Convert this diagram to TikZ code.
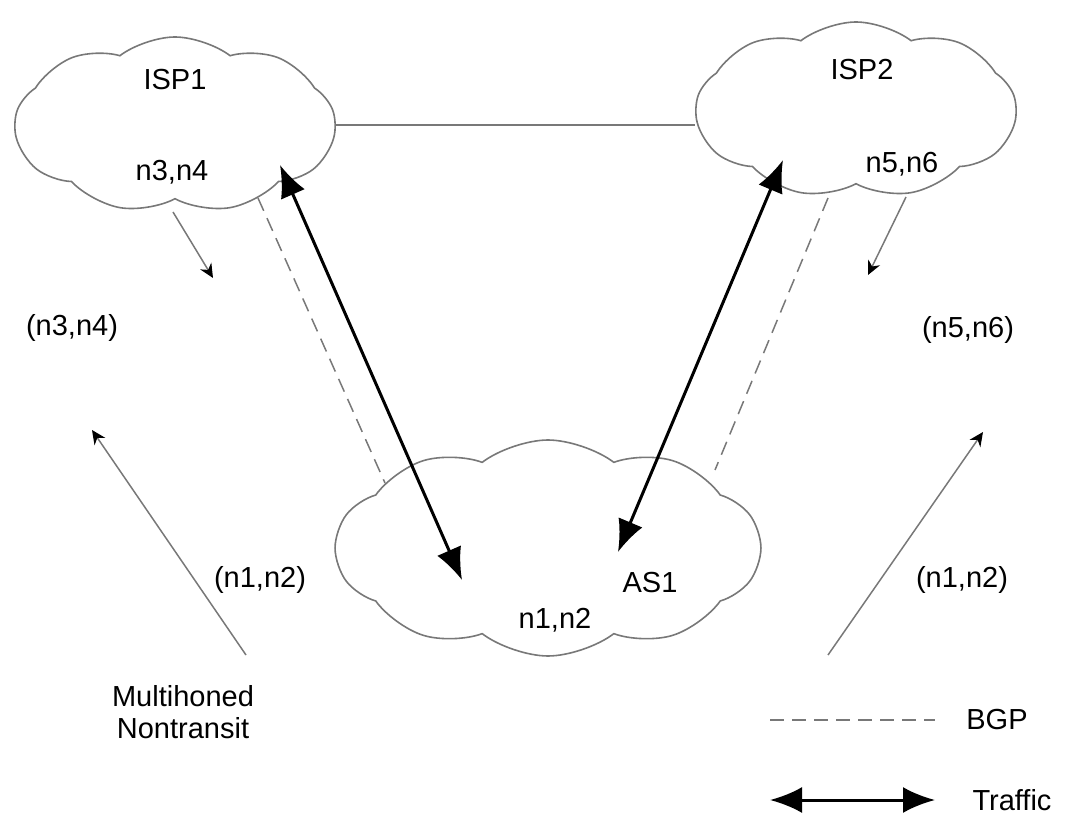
\documentclass[tikz,border=0pt]{standalone}
\usepackage{fontspec}
\setmainfont{Liberation Sans}
\usetikzlibrary{arrows.meta,positioning,shapes.symbols,calc}
\definecolor{linegray}{RGB}{120,120,120}

\begin{document}
\begin{tikzpicture}[
  x=0.5pt, y=-0.5pt,
  font=\fontsize{14.5}{16}\selectfont,
  cloudbox/.style={draw=linegray, cloud, cloud puffs=9, cloud puff arc=75, line width=0.8pt, inner sep=0pt},
  bgpline/.style={draw=linegray, dash pattern=on 7pt off 4pt, line width=0.75pt},
  trafarr/.style={{Latex[length=16pt,width=13pt]}-{Latex[length=16pt,width=13pt]}, line width=1.5pt},
  thinarr/.style={-{Stealth[length=7pt,width=6.5pt,color=black]}, draw=linegray, line width=0.75pt},
]
\useasboundingbox (0,0) rectangle (1087,818);
% clouds
\node[cloudbox, minimum width=160pt, minimum height=88pt] (isp1) at (175,125) {};
\node[cloudbox, minimum width=160pt, minimum height=88pt] (isp2) at (856,110) {};
\node[cloudbox, cloud puffs=10, minimum width=212pt, minimum height=108pt] (as1) at (548,548) {};
\node (isp1lbl) at (175,80) {ISP1};
\node (isp1net) at (172,172) {n3,n4};
\node (isp2lbl) at (862,70) {ISP2};
\node (isp2net) at (902,164) {n5,n6};
\node (as1lbl) at (650,583) {AS1};
\node (as1net) at (555,620) {n1,n2};
% advertised prefixes
\node (adv34) at (72,328) {(n3,n4)};
\node (adv56) at (968,330) {(n5,n6)};
\node (advl) at (260,580) {(n1,n2)};
\node (advr) at (962,580) {(n1,n2)};
\node[align=center] (mhnt) at (183,712) {Multihoned\\Nontransit};
% legend
\node (bgplbl) at (997,720) {BGP};
\node (traflbl) at (1012,800) {Traffic};
\coordinate (bgpa) at (770,720);
\coordinate (bgpb) at (935,720);
\coordinate (trafa) at (770,800);
\coordinate (trafb) at (935,800);
% end points
\coordinate (t1a) at (280,165);
\coordinate (t1b) at (462,580);
\coordinate (t2a) at (783,160);
\coordinate (t2b) at (618,552);
\coordinate (b1a) at (258,198);
\coordinate (b1b) at (385,483);
\coordinate (b2a) at (828,198);
\coordinate (b2b) at (715,470);
\coordinate (s1a) at (173,212);
\coordinate (s1b) at (213,278);
\coordinate (s2a) at (906,197);
\coordinate (s2b) at (868,275);
\coordinate (l1a) at (246,655);
\coordinate (l1b) at (92,430);
\coordinate (l2a) at (828,655);
\coordinate (l2b) at (983,432);

\draw[linegray, line width=0.8pt] (isp1.east) -- (isp1.east -| isp2.west);
\draw[bgpline] (b1a) -- (b1b);
\draw[bgpline] (b2a) -- (b2b);
\draw[trafarr] (t1a) -- (t1b);
\draw[trafarr] (t2a) -- (t2b);
\draw[thinarr] (s1a) -- (s1b);
\draw[thinarr] (s2a) -- (s2b);
\draw[thinarr] (l1a) -- (l1b);
\draw[thinarr] (l2a) -- (l2b);
\draw[bgpline] (bgpa) -- (bgpb);
\draw[trafarr] (trafa) -- (trafb);
\end{tikzpicture}
\end{document}
